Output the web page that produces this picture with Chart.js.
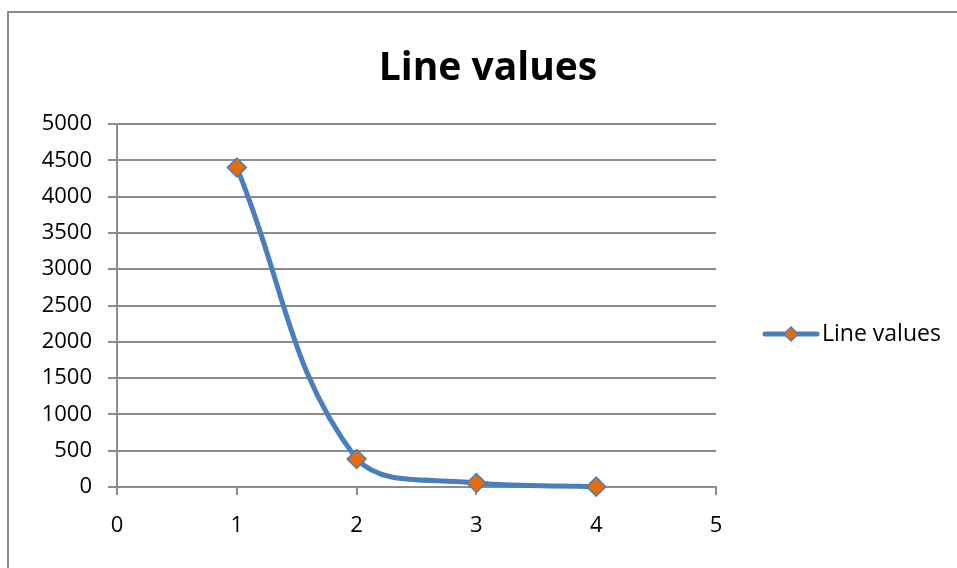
<!DOCTYPE html>
<html>
<head>
<meta charset="utf-8">
<script src="https://cdn.jsdelivr.net/npm/chart.js@4"></script>
<style>
  html, body { margin: 0; padding: 0; background: #fff; overflow: hidden; }
  #frame {
    position: absolute; left: 7px; top: 11px; width: 1100px; height: 700px;
    border-left: 2px solid #8c8c8c; border-top: 2px solid #8c8c8c;
  }
  #chart { position: absolute; left: 0; top: 0; }
</style>
</head>
<body>
<div id="frame"></div>
<canvas id="chart" width="957" height="568"></canvas>
<script>
// Data
const xValues = [1, 2, 3, 4];
const yValues = [4400, 385, 55, 5];
const seriesName = 'Line values';
const titleText = 'Line values';

const lineColor = '#4a7ebb';
const markerColor = '#e46c0a';
const gridColor = '#8c8c8c';
const fontFamily = '"Open Sans", "Liberation Sans", sans-serif';

// Excel-style legend drawn at the right, centred on the whole canvas
const sideLegend = {
  id: 'sideLegend',
  afterDraw(chart) {
    const ctx = chart.ctx;
    const y = 334;
    const x0 = 765, x1 = 817;
    ctx.save();
    ctx.strokeStyle = lineColor;
    ctx.lineWidth = 5;
    ctx.lineCap = 'round';
    ctx.beginPath();
    ctx.moveTo(x0, y);
    ctx.lineTo(x1, y);
    ctx.stroke();
    const cx = (x0 + x1) / 2, r = 7;
    ctx.beginPath();
    ctx.moveTo(cx, y - r);
    ctx.lineTo(cx + r, y);
    ctx.lineTo(cx, y + r);
    ctx.lineTo(cx - r, y);
    ctx.closePath();
    ctx.fillStyle = markerColor;
    ctx.fill();
    ctx.lineWidth = 1.5;
    ctx.stroke();
    ctx.fillStyle = '#000';
    ctx.font = '23px ' + fontFamily;
    ctx.textBaseline = 'middle';
    ctx.fillText(seriesName, 822, y);
    ctx.restore();
  }
};

const plainTick = (value) => String(value);

const canvas = document.getElementById('chart');
new Chart(canvas.getContext('2d'), {
  type: 'scatter',
  data: {
    datasets: [{
      label: seriesName,
      data: xValues.map((x, i) => ({ x: x, y: yValues[i] })),
      showLine: true,
      borderColor: lineColor,
      borderWidth: 5,
      tension: 0.4,
      clip: false,
      pointStyle: 'rectRot',
      pointRadius: 9.5,
      pointHoverRadius: 9.5,
      pointBackgroundColor: markerColor,
      pointBorderColor: lineColor,
      pointBorderWidth: 1.5
    }]
  },
  options: {
    responsive: false,
    animation: false,
    layout: { padding: { left: 19, right: 0, top: 0, bottom: 0 } },
    scales: {
      x: {
        type: 'linear',
        min: 0,
        max: 5,
        afterFit: (scale) => { scale.height = 81; },
        ticks: {
          stepSize: 1,
          color: '#000',
          padding: 18,
          callback: plainTick,
          font: { family: fontFamily, size: 22 }
        },
        grid: {
          drawOnChartArea: false,
          drawTicks: true,
          tickLength: 8,
          color: gridColor,
          lineWidth: 2
        },
        border: { color: gridColor, width: 2 }
      },
      y: {
        min: 0,
        max: 5000,
        afterFit: (scale) => { scale.width = 98; },
        ticks: {
          stepSize: 500,
          color: '#000',
          padding: 16,
          callback: plainTick,
          font: { family: fontFamily, size: 22 }
        },
        grid: {
          color: gridColor,
          lineWidth: 2,
          tickLength: 9
        },
        border: { color: gridColor, width: 2 }
      },
      // empty axis that reserves the space on the right used by the legend
      legendSpace: {
        type: 'linear',
        position: 'right',
        afterFit: (scale) => { scale.width = 241; },
        ticks: { display: false },
        grid: { display: false, drawTicks: false },
        border: { display: false }
      }
    },
    plugins: {
      legend: { display: false },
      tooltip: { enabled: false },
      title: {
        display: true,
        text: titleText,
        color: '#000',
        font: { family: fontFamily, size: 39, weight: 'bold', lineHeight: 1.2 },
        padding: { top: 45, bottom: 32.2 }
      }
    }
  },
  plugins: [sideLegend]
});
</script>
</body>
</html>
